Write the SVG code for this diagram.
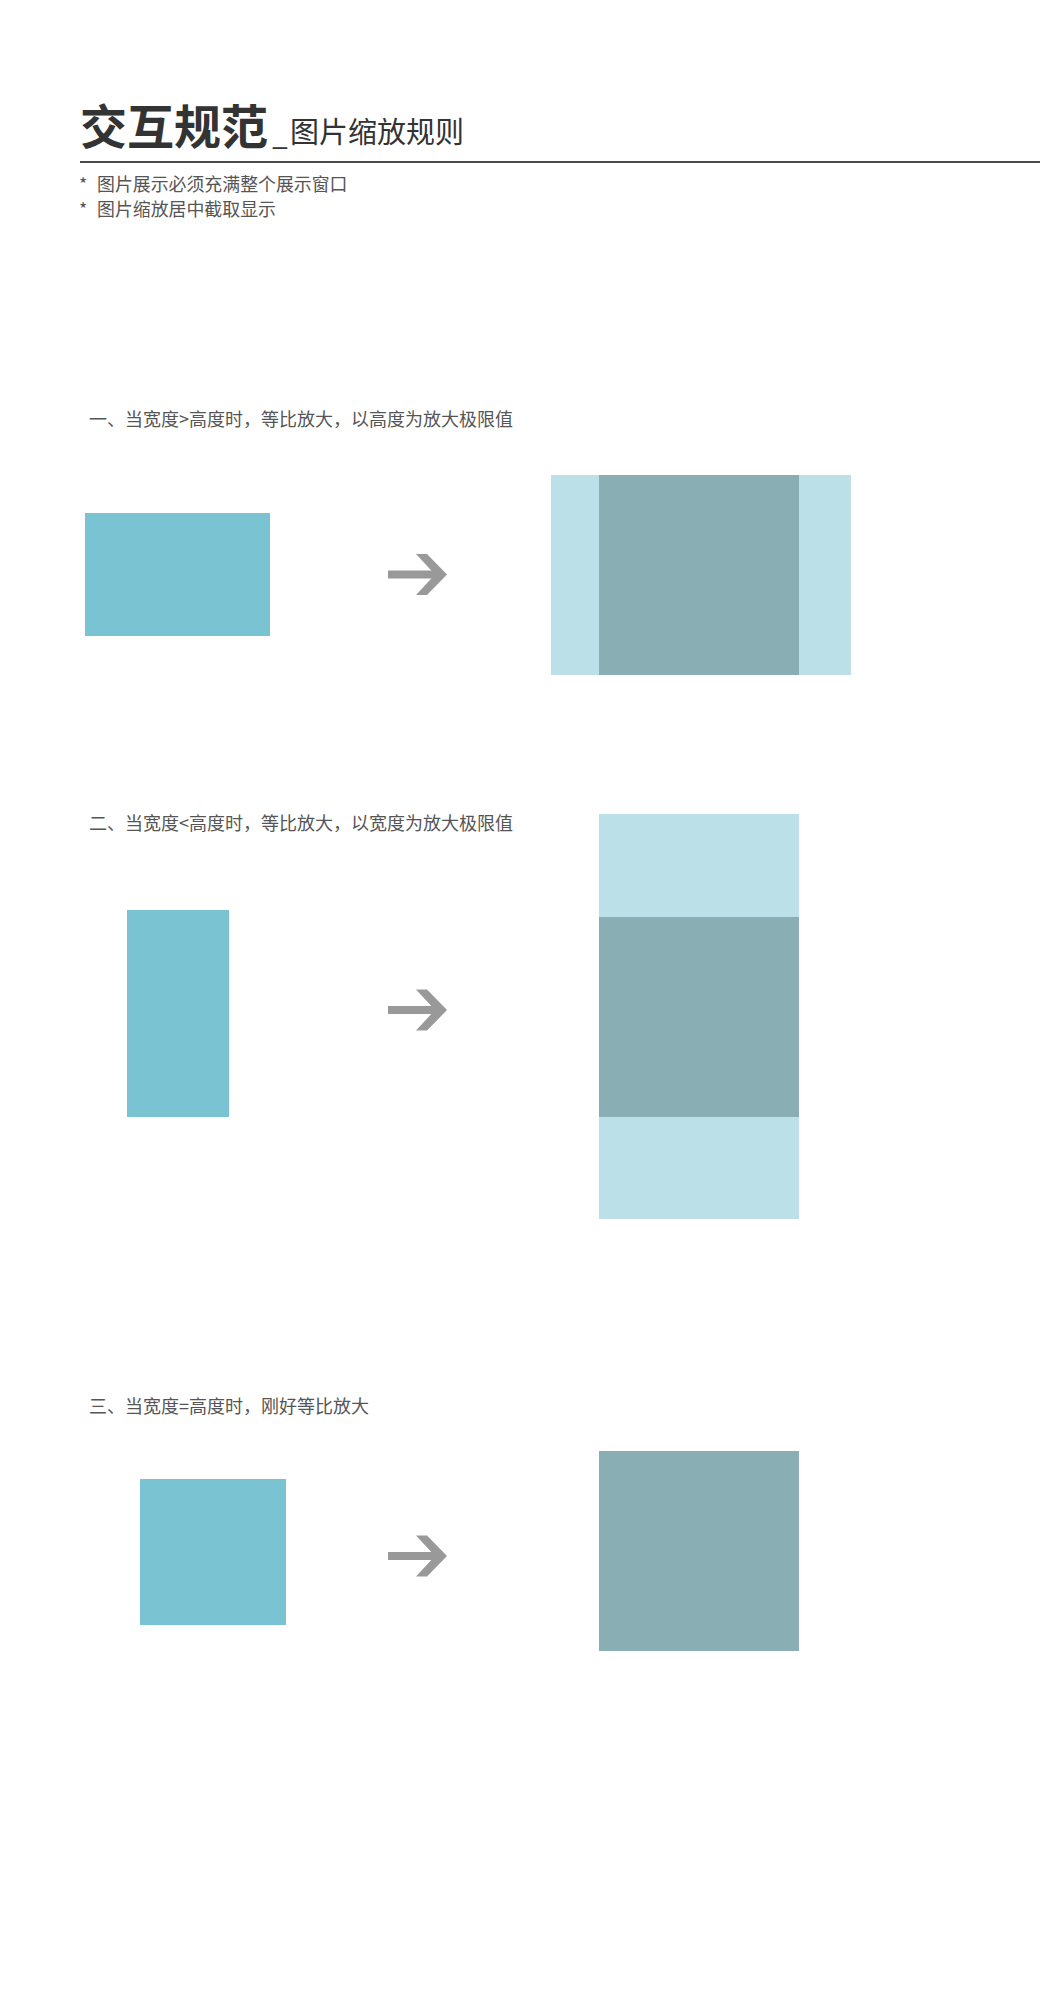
<svg xmlns="http://www.w3.org/2000/svg" width="1040" height="2000" viewBox="0 0 1040 2000">
<style>
  .cjk { font-family: "Noto Sans CJK SC", "Liberation Sans", sans-serif; }
  .title { font-size: 47px; font-weight: bold; fill: #333333; }
  .sub { font-size: 29px; fill: #333333; }
  .bullet { font-size: 17.9px; fill: #555555; }
  .head { font-size: 18px; fill: #555555; }
  .src { fill: #79C3D3; }
  .pad { fill: #BCE0E8; }
  .img { fill: #89AFB5; }
  .arrow { fill: #999999; }
</style>
<defs>
  <g id="arr">
    <rect x="388" y="-4" width="52" height="8"/>
    <polygon points="416,-20.5 427,-20.5 447,0 427,20.5 416,20.5 435,0"/>
  </g>
</defs>
<rect width="1040" height="2000" fill="#ffffff"/>

<g id="header" class="cjk">
  <text class="title" x="80" y="144">交互规范</text>
  <text x="273" y="144" font-family="Liberation Sans, sans-serif" font-size="25" fill="#333333">_</text>
  <text class="sub" x="290" y="143">图片缩放规则</text>
  <line x1="80" y1="162" x2="1040" y2="162" stroke="#111111" stroke-width="1.5"/>
  <text class="bullet" x="79" y="191">*</text>
  <text class="bullet" x="97" y="191">图片展示必须充满整个展示窗口</text>
  <text class="bullet" x="79" y="216">*</text>
  <text class="bullet" x="97" y="216">图片缩放居中截取显示</text>
</g>

<g id="case1">
  <text class="cjk head" x="89" y="426">一、当宽度&gt;高度时，等比放大，以高度为放大极限值</text>
  <rect id="src1" class="src" x="85" y="513" width="185" height="123"/>
  <rect class="pad" x="551" y="475" width="300" height="200"/>
  <rect id="img1" class="img" x="599" y="475" width="200" height="200"/>
</g>

<g id="case2">
  <text class="cjk head" x="89" y="830">二、当宽度&lt;高度时，等比放大，以宽度为放大极限值</text>
  <rect id="src2" class="src" x="127" y="910" width="102" height="207"/>
  <rect class="pad" x="599" y="814" width="200" height="405"/>
  <rect id="img2" class="img" x="599" y="917" width="200" height="200"/>
</g>

<g id="case3">
  <text class="cjk head" x="89" y="1413">三、当宽度=高度时，刚好等比放大</text>
  <rect id="src3" class="src" x="140" y="1479" width="146" height="146"/>
  <rect id="img3" class="img" x="599" y="1451" width="200" height="200"/>
</g>

<g id="connectors" class="arrow">
  <use href="#arr" transform="translate(0,574.5)"/>
  <use href="#arr" transform="translate(0,1010)"/>
  <use href="#arr" transform="translate(0,1556)"/>
</g>
</svg>
